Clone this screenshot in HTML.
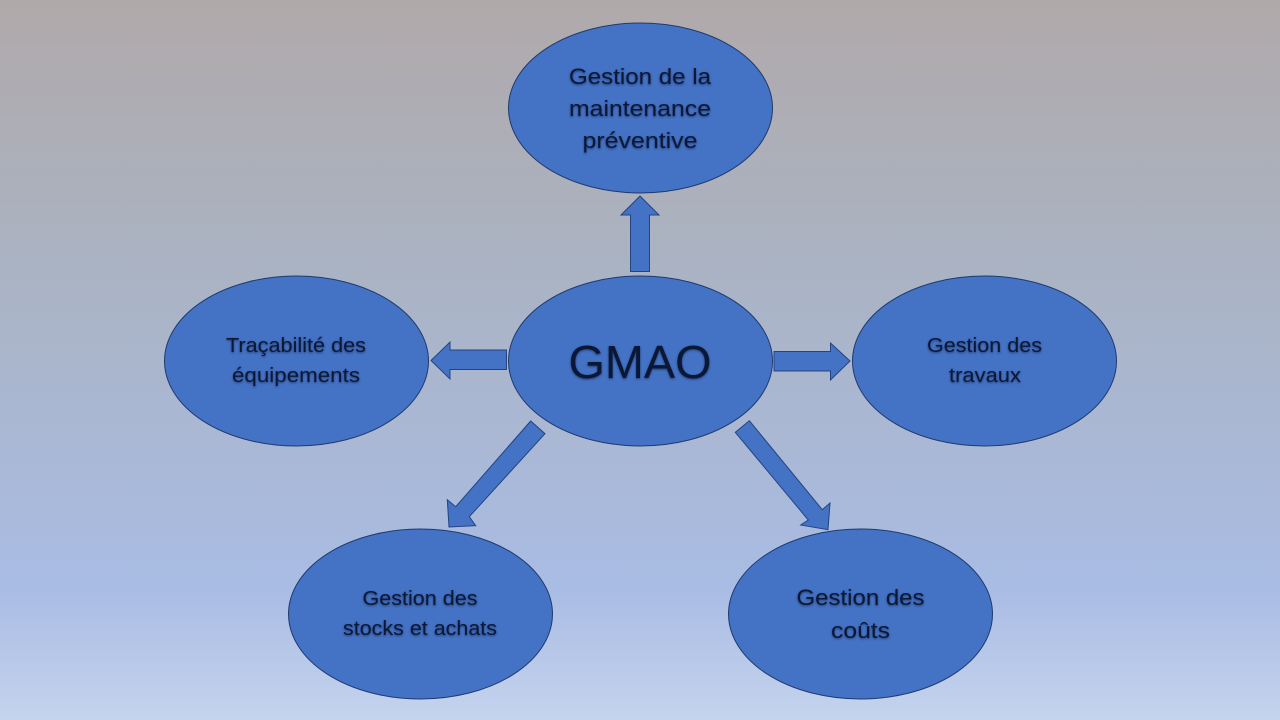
<!DOCTYPE html>
<html lang="fr">
<head>
<meta charset="utf-8">
<title>GMAO</title>
<style>
html,body{margin:0;padding:0;width:1280px;height:720px;overflow:hidden}
body{background:linear-gradient(180deg,#b0a9aa 0%,#aab4c6 41%,#a9bce4 82%,#c5d3ed 100%)}
svg{display:block;position:absolute;left:0;top:0}
text{font-family:"Liberation Sans",sans-serif;fill:#0a1836;text-shadow:0 1px 2px rgba(0,0,30,.5)}
.s{stroke:#234480;stroke-width:1;fill:#4472c4}
.e{stroke:#1f3a6e;stroke-width:1;fill:#4472c4}
</style>
</head>
<body>
<svg width="1280" height="720" viewBox="0 0 1280 720" xmlns="http://www.w3.org/2000/svg">
  <ellipse class="e" cx="640.5" cy="108" rx="132" ry="85"/>
  <ellipse class="e" cx="640.5" cy="361" rx="132" ry="85"/>
  <ellipse class="e" cx="296.5" cy="361" rx="132" ry="85"/>
  <ellipse class="e" cx="984.5" cy="361" rx="132" ry="85"/>
  <ellipse class="e" cx="420.5" cy="614" rx="132" ry="85"/>
  <ellipse class="e" cx="860.5" cy="614" rx="132" ry="85"/>

  <polygon class="s" points="630.5,271.5 630.5,215 621,215 640,196 659,215 649.5,215 649.5,271.5"/>
  <polygon class="s" points="506.5,350 450,350 450,342 431,360.5 450,379 450,369.5 506.5,369.5"/>
  <polygon class="s" points="774,351.5 830.5,351.5 830.5,343 850,361 830.5,380 830.5,371 774,371"/>
  <polygon class="s" points="530.7,421 545,433.7 469.3,516.7 475.7,525.7 449,527 447.3,499.7 455.7,506.7"/>
  <polygon class="s" points="749.3,420.7 735.3,432.3 808.3,520 800.7,525 828,529.7 830,503 822.3,509.7"/>

  <text x="640" y="84" text-anchor="middle" font-size="22.5" textLength="142" lengthAdjust="spacingAndGlyphs">Gestion de la</text>
  <text x="640" y="116" text-anchor="middle" font-size="22.5" textLength="142" lengthAdjust="spacingAndGlyphs">maintenance</text>
  <text x="640" y="148" text-anchor="middle" font-size="22.5" textLength="115" lengthAdjust="spacingAndGlyphs">préventive</text>

  <text x="640" y="378" text-anchor="middle" font-size="46" textLength="143" lengthAdjust="spacingAndGlyphs">GMAO</text>

  <text x="296" y="352" text-anchor="middle" font-size="20" textLength="140" lengthAdjust="spacingAndGlyphs">Traçabilité des</text>
  <text x="296" y="382" text-anchor="middle" font-size="20" textLength="128" lengthAdjust="spacingAndGlyphs">équipements</text>

  <text x="984.5" y="352" text-anchor="middle" font-size="20" textLength="115" lengthAdjust="spacingAndGlyphs">Gestion des</text>
  <text x="985" y="382" text-anchor="middle" font-size="20" textLength="72" lengthAdjust="spacingAndGlyphs">travaux</text>

  <text x="420" y="605" text-anchor="middle" font-size="20" textLength="115" lengthAdjust="spacingAndGlyphs">Gestion des</text>
  <text x="420" y="635" text-anchor="middle" font-size="20" textLength="154" lengthAdjust="spacingAndGlyphs">stocks et achats</text>

  <text x="860.5" y="605" text-anchor="middle" font-size="22.5" textLength="128" lengthAdjust="spacingAndGlyphs">Gestion des</text>
  <text x="860.5" y="638" text-anchor="middle" font-size="22.5" textLength="59" lengthAdjust="spacingAndGlyphs">coûts</text>
</svg>
</body>
</html>
